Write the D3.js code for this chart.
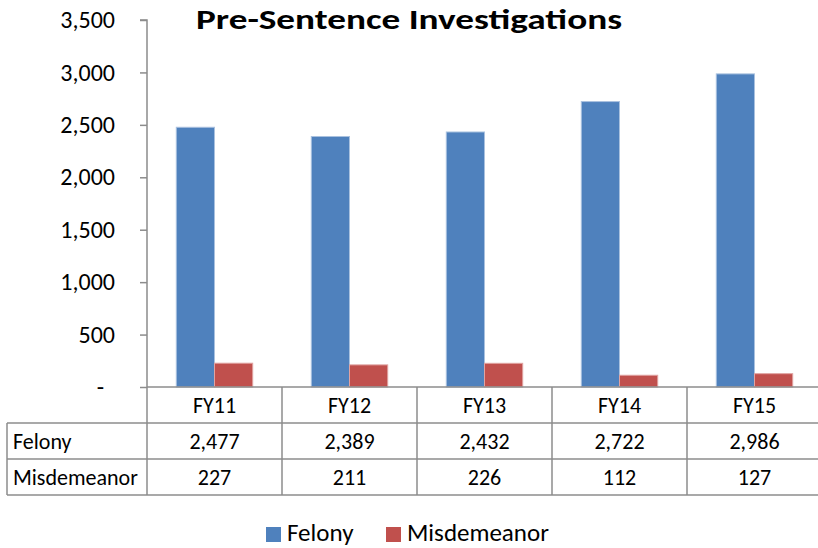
<!DOCTYPE html>
<html><head><meta charset="utf-8">
<script src="https://cdn.jsdelivr.net/npm/d3@7/dist/d3.min.js"></script>
<style>body{margin:0;background:#fff}svg{display:block}text{font-family:Carlito,Lato,"Open Sans",sans-serif}</style>
</head><body><svg id="c" width="818" height="548"></svg>
<script>
const categories = ["FY11","FY12","FY13","FY14","FY15"];
const felony = [2477,2389,2432,2722,2986];
const misdemeanor = [227,211,226,112,127];
const seriesNames = ["Felony","Misdemeanor"];
const colors = ["#4F81BD","#C0504D"];
const yTicks = [0,500,1000,1500,2000,2500,3000,3500];

const svg = d3.select("#c");
const x0 = 147, x1 = 822, yTop = 20, yBase = 387;
const x = d3.scaleBand().domain(categories).range([x0,x1]).padding(0);
const bw = x.bandwidth();
const inner = d3.scaleBand().domain(seriesNames).range([bw*0.217, bw*0.783]).padding(0);
const y = d3.scaleLinear().domain([0,3500]).range([yBase,yTop]);
const fmt = d3.format(",");
const grey = "#8c8c8c";

// title
svg.append("text").attr("x",196).attr("y",29)
  .attr("textLength",426).attr("lengthAdjust","spacingAndGlyphs")
  .style("font-size","27.5px").style("font-weight","bold").attr("fill","#000")
  .text("Pre-Sentence Investigations");

// y axis
const yAxis = d3.axisLeft(y).tickValues(yTicks).tickSize(7).tickPadding(25)
  .tickFormat(d => d === 0 ? "-" : fmt(d));
const ga = svg.append("g").attr("transform",`translate(${x0},0)`).call(yAxis);
ga.select(".domain").attr("stroke",grey).attr("stroke-width",1.5).attr("d",`M-7,${yTop}H0V${yBase}`);
ga.selectAll(".tick line").attr("stroke",grey).attr("stroke-width",1.5);
ga.selectAll(".tick text").style("font-size","24px").attr("fill","#000");
ga.selectAll(".tick").filter(d=>d===0).select("text").attr("dx",-11);

// bars
const data = categories.map((c,i)=>({c, vals:[felony[i],misdemeanor[i]]}));
const g = svg.append("g");
data.forEach(d=>{
  seriesNames.forEach((s,j)=>{
    g.append("rect")
      .attr("x", x(d.c)+inner(s)).attr("width", inner.bandwidth())
      .attr("y", y(d.vals[j])).attr("height", yBase - y(d.vals[j]))
      .attr("fill", colors[j])
      .attr("stroke", j===0 ? "#a9c1df" : "#e0a3a1").attr("stroke-width",1);
  });
});

// data table
const rowH = 36;
const rows = [{label:null, vals:categories},{label:"Felony", vals:felony.map(fmt)},{label:"Misdemeanor", vals:misdemeanor.map(fmt)}];
const tX = 7;
const tbl = svg.append("g");
const lineStyle = sel => sel.attr("stroke",grey).attr("stroke-width",1.5);
tbl.append("line").attr("x1",x0).attr("x2",x1).attr("y1",yBase).attr("y2",yBase).call(lineStyle);
[1,2,3].forEach(r=>{
  tbl.append("line").attr("x1",tX).attr("x2",x1).attr("y1",yBase+r*rowH).attr("y2",yBase+r*rowH).call(lineStyle);
});
tbl.append("line").attr("x1",tX).attr("x2",tX).attr("y1",yBase+rowH).attr("y2",yBase+3*rowH).call(lineStyle);
categories.forEach(c=>{
  tbl.append("line").attr("x1",x(c)).attr("x2",x(c)).attr("y1",yBase).attr("y2",yBase+3*rowH).call(lineStyle);
});
tbl.append("line").attr("x1",x1).attr("x2",x1).attr("y1",yBase).attr("y2",yBase+3*rowH).call(lineStyle);
rows.forEach((r,ri)=>{
  const cy = yBase + ri*rowH + rowH/2 + 8;
  if (r.label) tbl.append("text").attr("x",13).attr("y",cy).style("font-size","22px").attr("fill","#000").text(r.label);
  r.vals.forEach((v,ci)=>{
    tbl.append("text").attr("x",x(categories[ci])+bw/2).attr("y",cy)
      .attr("text-anchor","middle").style("font-size","22px").attr("fill","#000").text(v);
  });
});

// legend
const leg = svg.append("g");
const legItems = [{n:"Felony",x:266},{n:"Misdemeanor",x:386}];
legItems.forEach((it,i)=>{
  leg.append("rect").attr("x",it.x).attr("y",527).attr("width",15).attr("height",15).attr("fill",colors[i]);
  leg.append("text").attr("x",it.x+21).attr("y",541).style("font-size","25px").attr("fill","#000").text(it.n);
});
</script></body></html>
